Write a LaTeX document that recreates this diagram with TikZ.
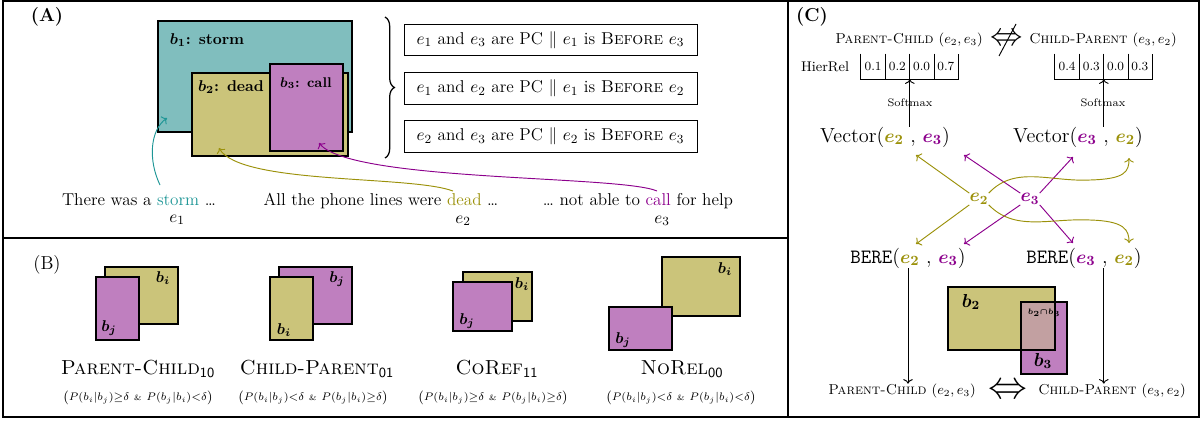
\documentclass[tikz,border=0pt]{standalone}
\usepackage{tikz}
\usetikzlibrary{arrows, arrows.meta, decorations.pathreplacing}
\usepackage{amsfonts}
\usepackage{amsmath}
\usepackage{amssymb}

\definecolor{boxteal}{RGB}{128,190,190}
\definecolor{boxolive}{RGB}{203,196,122}
\definecolor{boxpurple}{RGB}{191,127,191}
\definecolor{boxinter}{RGB}{194,160,161}
\definecolor{tealtxt}{RGB}{30,150,150}
\definecolor{olvtxt}{RGB}{155,145,10}
\definecolor{prptxt}{RGB}{140,0,140}

\newcommand{\bt}[1]{$\boldsymbol{#1}$}
\newcommand{\ev}[2]{\textcolor{#1}{$\boldsymbol{#2}$}}

\begin{document}
\begin{tikzpicture}[x=0.64pt,y=-0.64pt]
\tikzstyle{every node}+=[inner sep=0pt]
\tikzstyle{box}=[draw=black, line width=0.8pt]
\tikzstyle{pcbox}=[draw=black, line width=0.6pt, minimum width=187.5pt, minimum height=20pt]
\tikzstyle{cell}=[minimum width=15.5pt, minimum height=16pt, font=\footnotesize]
\tikzstyle{arr}=[->, line width=0.6pt]
\tikzstyle{sent}=[font=\fontsize{11}{13}\selectfont]
\tikzstyle{rel}=[font=\fontsize{9.2}{11}\selectfont]
\tikzstyle{relname}=[font=\fontsize{13}{15}\selectfont]
\tikzstyle{cond}=[font=\fontsize{7.4}{9}\selectfont]
\useasboundingbox (0,0) rectangle (1203,423);
% frame
\draw [line width=1.2pt] (3,1) rectangle (1199,417);
\draw [line width=1.2pt] (788,1) -- (788,417);
\draw [line width=1.2pt] (3,238) -- (788,238);

% (A)
\node (labA) at (47,17) {\large\textbf{(A)}};
\draw [box, fill=boxteal] (158,21) rectangle (352,132);
\draw [box, fill=boxolive] (192,73) rectangle (348,156);
\draw [box, fill=boxpurple] (270,64) rectangle (343,151);
\node (lb1) at (207,40) {\bt{b_1}\textbf{: storm}};
\node (lb2) at (231,87) {\bt{b_2}\textbf{: dead}};
\node (lb3) at (306,83) {\small\bt{b_3}\textbf{: call}};
\draw [line width=0.8pt, decorate, decoration={brace, amplitude=6pt}] (385,17) -- (385,158);
\node [pcbox] (pc1) at (550.5,40) {\fontsize{11}{13}\selectfont $e_1$ and $e_3$ are PC $\|$ $e_1$ is \textsc{Before} $e_3$};
\node [pcbox] (pc2) at (550.5,88.5) {\fontsize{11}{13}\selectfont $e_1$ and $e_2$ are PC $\|$ $e_1$ is \textsc{Before} $e_2$};
\node [pcbox] (pc3) at (550.5,136.5) {\fontsize{11}{13}\selectfont $e_2$ and $e_3$ are PC $\|$ $e_2$ is \textsc{Before} $e_3$};
\node [sent] (s1) at (139,200) {There was a \textcolor{tealtxt}{storm} \dots};
\node [sent] (s2) at (381,201) {All the phone lines were \textcolor{olvtxt}{dead} \dots};
\node [sent] (s3) at (638,201) {\dots{} not able to \textcolor{prptxt}{call} for help};
\node [sent] (e1) at (177,220) {$e_1$};
\node [sent] (e2) at (463,221) {$e_2$};
\node [sent] (e3) at (662,221) {$e_3$};
\coordinate (from1) at (160,185);
\coordinate (to1) at (167,118);
\coordinate (from2) at (453,191);
\coordinate (to2) at (219,148);
\coordinate (from3) at (657,191);
\coordinate (to3) at (319,143);
\draw [arr, tealtxt] (from1) .. controls (148,160) and (150,130) .. (to1);
\draw [arr, olvtxt] (from2) .. controls (410,175) and (240,185) .. (to2);
\draw [arr, prptxt] (from3) .. controls (620,175) and (350,182) .. (to3);

% (B)
\node (labB) at (47,265) {\large (B)};
\draw [box, fill=boxolive] (105,267) rectangle (178,324);
\draw [box, fill=boxpurple] (96,277) rectangle (139,340);
\node (bi1) at (163,278) {\bt{b_i}};
\node (bj1) at (109,328) {\bt{b_j}};
\draw [box, fill=boxpurple] (279,267) rectangle (352,324);
\draw [box, fill=boxolive] (270,277) rectangle (313,340);
\node (bj2) at (337,279) {\bt{b_j}};
\node (bi2) at (284,330) {\bt{b_i}};
\draw [box, fill=boxolive] (463,272) rectangle (532,321);
\draw [box, fill=boxpurple] (453,282) rectangle (512,331);
\node (bi3) at (522,284) {\bt{b_i}};
\node (bj3) at (467,321) {\bt{b_j}};
\draw [box, fill=boxolive] (662,257) rectangle (740,316);
\draw [box, fill=boxpurple] (609,307) rectangle (672,350);
\node (bi4) at (725,269) {\bt{b_i}};
\node (bj4) at (623,340) {\bt{b_j}};
\node [relname] (r1) at (138,369) {\textsc{Parent-Child}$_{\mathsf{10}}$};
\node [relname] (r2) at (317,369) {\textsc{Child-Parent}$_{\mathsf{01}}$};
\node [relname] (r3) at (497,369) {\textsc{CoRef}$_{\mathsf{11}}$};
\node [relname] (r4) at (682,369) {\textsc{NoRel}$_{\mathsf{00}}$};
\node [cond] (f1) at (138,398) {$\bigl(P(b_i|b_j){\geq}\delta$ {\tiny\&} $P(b_j|b_i){<}\delta\bigr)$};
\node [cond] (f2) at (313,398) {$\bigl(P(b_i|b_j){<}\delta$ {\tiny\&} $P(b_j|b_i){\geq}\delta\bigr)$};
\node [cond] (f3) at (493,398) {$\bigl(P(b_i|b_j){\geq}\delta$ {\tiny\&} $P(b_j|b_i){\geq}\delta\bigr)$};
\node [cond] (f4) at (681,398) {$\bigl(P(b_i|b_j){<}\delta$ {\tiny\&} $P(b_j|b_i){<}\delta\bigr)$};

% (C)
\node (labC) at (812,17) {\large\textbf{(C)}};
\node [rel] (pcT) at (909,40) {\textsc{Parent-Child} $(e_2,e_3)$};
\node (niff) at (1007,40) {\fontsize{21}{21}\selectfont$\Leftrightarrow$};
\draw [line width=0.6pt] (999,56) -- (1016,24);
\node [rel] (cpT) at (1103,40) {\textsc{Child-Parent} $(e_3,e_2)$};
\node (hier) at (825,67) {\small HierRel};
\foreach \v [count=\i] in {0.1,0.2,0.0,0.7}
  \node [cell] (hl\i) at (861+24.25*\i-12.125,66.5) {\v};
\foreach \v [count=\i] in {0.4,0.3,0.0,0.3}
  \node [cell] (hr\i) at (1055+24.25*\i-12.125,66.5) {\v};
\draw [line width=0.5pt] (hl1.north west) -- (hl1.south west) -- (hl4.south east) -- (hl4.north east);
\draw [line width=0.5pt] (hr1.north west) -- (hr1.south west) -- (hr4.south east) -- (hr4.north east);
\foreach \i in {1,2,3} {
  \draw [line width=0.5pt] (hl\i.north east) -- (hl\i.south east);
  \draw [line width=0.5pt] (hr\i.north east) -- (hr\i.south east);
}
\node (vecL) at (885,137) {\fontsize{13}{15}\selectfont Vector(\ev{olvtxt}{e_2} , \ev{prptxt}{e_3})};
\node (vecR) at (1078,137) {\fontsize{13}{15}\selectfont Vector(\ev{prptxt}{e_3} , \ev{olvtxt}{e_2})};
\draw [arr] (hl2.south east |- vecL.north) -- (hl2.south east);
\draw [arr] (hr2.south east |- vecR.north) -- (hr2.south east);
\node (smL) at (910,103) {\scriptsize Softmax};
\node (smR) at (1103,103) {\scriptsize Softmax};
\node (ee2) at (979,199) {\fontsize{12}{14}\selectfont\ev{olvtxt}{e_2}};
\node (ee3) at (1030,199) {\fontsize{12}{14}\selectfont\ev{prptxt}{e_3}};
\node (bereL) at (908,258) {\fontsize{13}{15}\selectfont\texttt{BERE}(\ev{olvtxt}{e_2} , \ev{prptxt}{e_3})};
\node (bereR) at (1084,258) {\fontsize{13}{15}\selectfont\texttt{BERE}(\ev{prptxt}{e_3} , \ev{olvtxt}{e_2})};
\coordinate (vl1) at (916,155);
\coordinate (vl2) at (964,155);
\coordinate (vr1) at (1073,157);
\coordinate (vr2) at (1129,158);
\coordinate (bl1) at (916,244);
\coordinate (bl2) at (964,244);
\coordinate (br1) at (1073,243);
\coordinate (br2) at (1129,243);
\draw [arr, olvtxt] (ee2.north west) -- (vl1);
\draw [arr, olvtxt] (ee2.south west) -- (bl1);
\draw [arr, prptxt] (ee3.north west) -- (vl2);
\draw [arr, prptxt] (ee3.south west) -- (bl2);
\draw [arr, prptxt] (ee3.north east) -- (vr1);
\draw [arr, prptxt] (ee3.south east) -- (br1);
\draw [arr, olvtxt] (ee2.north east) .. controls (1015,165) and (1050,182) .. (1090,180) .. controls (1125,179) and (1129,172) .. (vr2);
\draw [arr, olvtxt] (ee2.south east) .. controls (1015,232) and (1050,218) .. (1090,220) .. controls (1125,221) and (1129,230) .. (br2);
% boxes
\fill [boxolive] (948,287) rectangle (1055,350);
\fill [boxpurple] (1021,302) rectangle (1067,374);
\fill [boxinter] (1021,302) rectangle (1055,350);
\draw [box] (948,287) rectangle (1055,350);
\draw [box] (1021,302) rectangle (1067,374);
\node (lbb2) at (971,302) {\large\bt{b_2}};
\node (lbb3) at (1043,361) {\large\bt{b_3}};
\node (lbi) at (1044,313) {\tiny\bt{b_2{\cap}b_3}};
\node [rel] (pcB) at (902,391) {\textsc{Parent-Child} $(e_2,e_3)$};
\node (iff) at (1008,391) {\fontsize{23}{23}\selectfont$\Leftrightarrow$};
\node [rel] (cpB) at (1112,391) {\textsc{Child-Parent} $(e_3,e_2)$};
\draw [arr] (bereL.south) -- (bereL.south |- pcB.north);
\draw [arr] (hr2.south east |- bereR.south) -- (hr2.south east |- cpB.north);
\end{tikzpicture}
\end{document}
